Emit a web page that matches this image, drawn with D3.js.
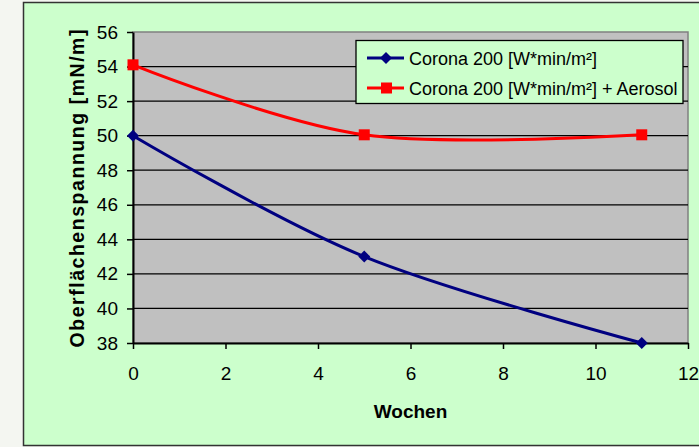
<!DOCTYPE html>
<html>
<head>
<meta charset="utf-8">
<script src="https://cdn.jsdelivr.net/npm/d3@7"></script>
<style>
  body { margin: 0; background: #f4f6f1; }
  svg { display: block; font-family: "Liberation Sans", Arial, sans-serif; }
</style>
</head>
<body>
<div id="chart"></div>
<script>
var weeks = [0, 5, 11]
var corona = [50, 43, 38]
var aerosol = [54.1, 50.05, 50.05]
var yTicks = [38, 40, 42, 44, 46, 48, 50, 52, 54, 56]
var xTicks = [0, 2, 4, 6, 8, 10, 12]
var seriesNames = ["Corona 200 [W*min/m²]", "Corona 200 [W*min/m²] + Aerosol"]

var width = 699
var height = 447
var plot = { left: 133, right: 688, top: 32, bottom: 343 }

var svg = d3.select("#chart").append("svg")
    .attr("width", width)
    .attr("height", height)

// outer chart box
svg.append("rect")
    .attr("x", 23.5).attr("y", 2.5)
    .attr("width", 690).attr("height", 443)
    .attr("fill", "#ccffcc")
    .attr("stroke", "#333")
    .attr("stroke-width", 1.5)

var x = d3.scaleLinear().domain([0, 12]).range([plot.left, plot.right])
var y = d3.scaleLinear().domain([38, 56]).range([plot.bottom, plot.top])

// plot area
svg.append("rect")
    .attr("x", plot.left).attr("y", plot.top)
    .attr("width", plot.right - plot.left).attr("height", plot.bottom - plot.top)
    .attr("fill", "#c0c0c0")
    .attr("stroke", "#808080")
    .attr("stroke-width", 1.5)

// gridlines
svg.append("g")
    .selectAll("line")
    .data(yTicks.filter(d => d > 38 && d < 56))
    .enter().append("line")
    .attr("x1", plot.left).attr("x2", plot.right)
    .attr("y1", d => y(d)).attr("y2", d => y(d))
    .attr("stroke", "#000")
    .attr("stroke-width", 1.3)

// axes
var gy = svg.append("g")
    .attr("transform", "translate(" + plot.left + ",0)")
    .call(d3.axisLeft(y).tickValues(yTicks).tickSize(6).tickPadding(9).tickSizeOuter(0))
var gx = svg.append("g")
    .attr("transform", "translate(0," + plot.bottom + ")")
    .call(d3.axisBottom(x).tickValues(xTicks).tickSize(6).tickPadding(18).tickSizeOuter(0))

;[gy, gx].forEach(g => {
    g.select(".domain").attr("stroke", "#000").attr("stroke-width", 2)
    g.selectAll(".tick line").attr("stroke", "#000").attr("stroke-width", 1.5)
    g.selectAll(".tick text").attr("fill", "#000").style("font-size", "19px")
})

// axis titles
svg.append("text")
    .attr("transform", "translate(84,188.5) rotate(-90)")
    .attr("text-anchor", "middle")
    .attr("textLength", 318)
    .attr("lengthAdjust", "spacing")
    .style("font-size", "19.5px")
    .style("font-weight", "bold")
    .text("Oberflächenspannung [mN/m]")

svg.append("text")
    .attr("x", (plot.left + plot.right) / 2)
    .attr("y", 418)
    .attr("text-anchor", "middle")
    .style("font-size", "19px")
    .style("font-weight", "bold")
    .text("Wochen")

// lines
var line = d3.line()
    .x(d => x(d[0]))
    .y(d => y(d[1]))
    .curve(d3.curveCardinal.tension(0))

var blueData = weeks.map((w, i) => [w, corona[i]])
var redData = weeks.map((w, i) => [w, aerosol[i]])

svg.append("path")
    .datum(blueData)
    .attr("d", line)
    .attr("fill", "none")
    .attr("stroke", "#000080")
    .attr("stroke-width", 3)

svg.append("path")
    .datum(redData)
    .attr("d", line)
    .attr("fill", "none")
    .attr("stroke", "#ff0000")
    .attr("stroke-width", 3)

var diamond = d3.symbol().type(d3.symbolSquare).size(72)

svg.append("g")
    .selectAll("path")
    .data(blueData)
    .enter().append("path")
    .attr("transform", d => "translate(" + x(d[0]) + "," + y(d[1]) + ") rotate(45)")
    .attr("d", diamond)
    .attr("fill", "#000080")

svg.append("g")
    .selectAll("rect")
    .data(redData)
    .enter().append("rect")
    .attr("x", d => x(d[0]) - 5.5)
    .attr("y", d => y(d[1]) - 5.5)
    .attr("width", 11).attr("height", 11)
    .attr("fill", "#ff0000")

// legend
var legend = svg.append("g")
legend.append("rect")
    .attr("x", 356).attr("y", 40.5)
    .attr("width", 327).attr("height", 63)
    .attr("fill", "#ccffcc")
    .attr("stroke", "#000")
    .attr("stroke-width", 1.3)

var legendColors = ["#000080", "#ff0000"]
seriesNames.forEach((name, i) => {
    var ly = 58 + i * 30
    legend.append("line")
        .attr("x1", 367).attr("x2", 404)
        .attr("y1", ly).attr("y2", ly)
        .attr("stroke", legendColors[i])
        .attr("stroke-width", 3)
    if (i === 0) {
        legend.append("path")
            .attr("transform", "translate(386," + ly + ") rotate(45)")
            .attr("d", diamond)
            .attr("fill", legendColors[i])
    } else {
        legend.append("rect")
            .attr("x", 381).attr("y", ly - 5.5)
            .attr("width", 11).attr("height", 11)
            .attr("fill", legendColors[i])
    }
    legend.append("text")
        .attr("x", 409)
        .attr("y", ly + 7)
        .style("font-size", "18px")
        .text(name)
})
</script>
</body>
</html>
